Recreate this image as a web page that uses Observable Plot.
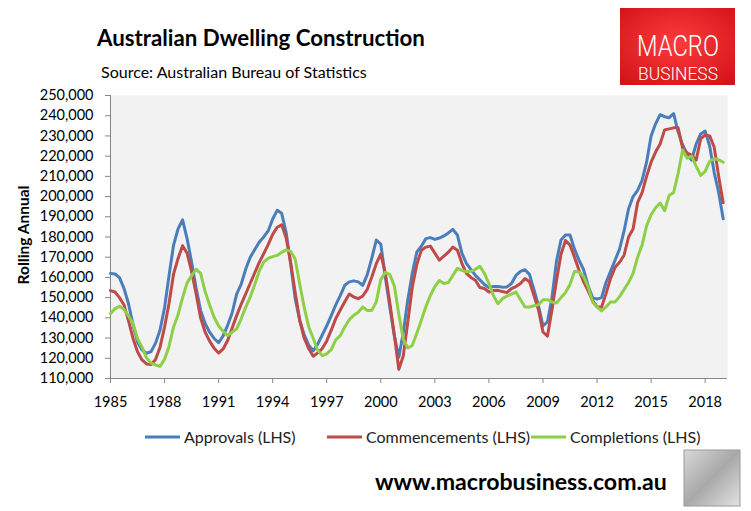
<!DOCTYPE html>
<html><head><meta charset="utf-8">
<script src="https://cdn.jsdelivr.net/npm/d3@7"></script>
<script src="https://cdn.jsdelivr.net/npm/@observablehq/plot@0.6"></script>
<style>
html,body{margin:0;padding:0;background:#fff;}
#wrap{position:relative;width:751px;height:511px;overflow:hidden;}
#chart,#overlay{position:absolute;left:0;top:0;}
#overlay{pointer-events:none;}
#chart g[aria-label="x-axis tick"], #chart g[aria-label="y-axis tick"]{stroke:#868686;}
</style>
</head><body>
<div id="wrap"><div id="chart"></div><svg id="overlay" width="751" height="511"></svg></div>
<script>
// ---- data (thousands of dwellings, rolling annual, quarterly from 1985 Q1 to 2019 Q1) ----
const startYear = 1985;
const seriesNames = ["Approvals (LHS)", "Commencements (LHS)", "Completions (LHS)"];
const approvals = [
  162, 161.7, 159.9, 154.5,  147, 136.5, 128.1, 124.1,  122.5, 123.3, 127.5, 134,
  145, 161, 176, 184,  188.5, 179.2, 167.6, 154.8,  143.7, 137.2, 132.9, 129.8,
  127.7, 131.1, 136.3, 142.4,  151.7, 156.6, 164, 169.9,  173.7, 177.4, 180, 183,
  188.9, 193.2, 191.7, 182.1,  166.5, 149.4, 138.8, 131.6,  126.5, 123.7, 127, 131.5,
  136, 141.1, 146.4, 151,  156.1, 157.8, 158.3, 157.8,  156.1, 161.4, 169.5, 178.5,
  176.5, 160.2, 145.4, 131.2,  120.5, 132.9, 149, 162.2,  172.6, 175.4, 179.2, 179.7,
  178.8, 179.5, 180.5, 182,  183.8, 181, 172, 167,  164, 161, 158.8, 156.5,
  155, 155.5, 155.5, 155.2,  155.3, 157, 161, 163,  163.8, 161.5, 154, 146,
  136, 138, 150, 168,  178.5, 181, 181, 174,  168.5, 164, 156, 150,
  149.3, 150, 157.5, 163,  168.5, 174, 183, 194,  200, 203, 208, 217,
  230, 236, 240.5, 239.5,  239, 241, 232, 225.5,  221, 218, 226, 231,
  232.4, 225, 212, 202,  189
];
const commencements = [
  153.5, 152.8, 150, 146.4,  138.5, 129.8, 123.2, 119.2,  117.2, 116.9, 119.4, 125.5,
  135.5, 147.2, 161.7, 169.4,  175.7, 172, 163, 152,  140, 133, 128.5, 125,
  122.6, 124.6, 128.8, 135,  141.1, 146.7, 151.8, 157,  162.2, 167.3, 171.7, 176.2,
  181.3, 184.8, 186, 179.5,  167.3, 152.5, 138.8, 129.9,  124.8, 121, 122.7, 124.8,
  128.6, 133.9, 139.6, 143.9,  148, 151.8, 150.3, 149.5,  150.8, 154.1, 160.2, 166.8,
  171.6, 162.2, 147.5, 131.6,  114.5, 121.3, 138.1, 155.3,  166.5, 173.4, 175, 175.5,
  172, 168.5, 170.5, 172.5,  175, 173.5, 167, 162,  160, 158.6, 155, 154.5,
  152.8, 153.5, 153.6, 153,  152.5, 154.5, 155.5, 157,  159.4, 158, 151, 144,
  133, 131, 144, 158.5,  171.5, 178.3, 176, 170,  163.5, 158, 153.5, 148.5,
  145.5, 145.3, 152, 159.5,  165, 167.5, 171, 180,  184, 197, 202, 210,
  217, 222, 226, 233,  233.5, 234, 234, 224,  221.5, 220.5, 218, 228.5,
  230.5, 230, 224.5, 210,  197
];
const completions = [
  142, 144.6, 145.7, 144.2,  140.9, 137.3, 129.7, 125.5,  120.2, 117.6, 116.7, 116,
  119.5, 126, 135.5, 141.5,  150, 157.3, 160.9, 164,  162, 153.1, 146.4, 140.3,
  136, 133.4, 131.2, 133,  134.5, 139.5, 145.2, 150.2,  156.4, 163, 167.6, 169.4,
  170.3, 170.9, 172.4, 173.6,  172.9, 169, 156.8, 145.2,  135.5, 129.9, 124, 121.3,
  122.2, 124.3, 129.1, 131.2,  135.5, 139.1, 141.3, 142.8,  145.4, 143.7, 143.7, 147.9,
  158.9, 162.5, 161.4, 155.9,  141.8, 129.3, 125.1, 126.4,  132.4, 138.8, 145.5, 151,
  155.5, 158.5, 157, 157.5,  161, 164.5, 163.5, 162.8,  163, 164, 165.5, 162,
  157, 151, 147, 149.5,  150.8, 151.7, 152.8, 149,  145.4, 145.4, 146, 146.5,
  149, 149, 147.8, 147.4,  150, 152.5, 156.5, 163,  162.7, 160.5, 155.5, 147.9,
  145.4, 143.4, 145.4, 147.9,  147.9, 150.5, 154, 157.5,  162, 170, 176, 185.5,
  191, 194.5, 196.8, 193,  200.5, 202, 211.5, 223,  219, 220, 215, 210.5,
  212.5, 217.5, 218.7, 218.2,  217
];
const xTicks = [1985, 1988, 1991, 1994, 1997, 2000, 2003, 2006, 2009, 2012, 2015, 2018];
const yTicks = [110, 120, 130, 140, 150, 160, 170, 180, 190, 200, 210, 220, 230, 240, 250];
const colors = ["#4a7ebb", "#be4b48", "#8dcf47"];

// ---- build rows ----
const toRows = (arr, name) => arr.map((v, i) => ({t: startYear + i / 4, v, series: name}));
const rowsA = toRows(approvals, seriesNames[0]);
const rowsC = toRows(commencements, seriesNames[1]);
const rowsK = toRows(completions, seriesNames[2]);
const fmt = d3.format(",");

const chart = Plot.plot({
  width: 751, height: 511,
  marginLeft: 110, marginRight: 24, marginTop: 95, marginBottom: 133,
  style: {fontFamily: "Lato, 'Open Sans', sans-serif", fontSize: "14.5px", background: "transparent", color: "#000", overflow: "visible"},
  x: {domain: [1985, 2019.24]},
  y: {domain: [110, 250]},
  marks: [
    Plot.frame({fill: "#f2f2f2", stroke: null}),
    Plot.axisY({ticks: yTicks, tickSize: 5, tickPadding: 12, tickFormat: d => fmt(d * 1000), label: null, color: "#000"}),
    Plot.axisX({ticks: xTicks, tickSize: 5, tickPadding: 13, tickFormat: d => String(d), label: null, color: "#000"}),
    Plot.ruleX([1985], {stroke: "#868686"}),
    Plot.ruleY([110], {stroke: "#868686"}),
    Plot.line(rowsA, {x: "t", y: "v", stroke: colors[0], strokeWidth: 3, strokeLinejoin: "round"}),
    Plot.line(rowsC, {x: "t", y: "v", stroke: colors[1], strokeWidth: 3, strokeLinejoin: "round"}),
    Plot.line(rowsK, {x: "t", y: "v", stroke: colors[2], strokeWidth: 3, strokeLinejoin: "round"})
  ]
});
document.getElementById("chart").appendChild(chart);

// ---- overlay: titles, legend, footer, logos ----
const ov = d3.select("#overlay");
const defs = ov.append("defs");
const rg = defs.append("radialGradient").attr("id", "logoGrad").attr("cx", "50%").attr("cy", "45%").attr("r", "70%");
rg.append("stop").attr("offset", "0%").attr("stop-color", "#ff3b3b");
rg.append("stop").attr("offset", "100%").attr("stop-color", "#d0141a");
const wg = defs.append("linearGradient").attr("id", "wolfGrad").attr("x1", "0").attr("y1", "0").attr("x2", "1").attr("y2", "1");
wg.append("stop").attr("offset", "0%").attr("stop-color", "#d8d8d8");
wg.append("stop").attr("offset", "50%").attr("stop-color", "#a8a8a8");
wg.append("stop").attr("offset", "100%").attr("stop-color", "#e2e2e2");

function fitText(sel, width) {
  const node = sel.node();
  const w = node.getComputedTextLength();
  const fs = parseFloat(sel.attr("font-size"));
  if (w > 0) sel.attr("font-size", (fs * width / w).toFixed(2));
}
const sans = "Lato, 'Open Sans', sans-serif";

const title = ov.append("text").attr("x", 97).attr("y", 46).attr("font-family", sans)
  .attr("font-weight", 700).attr("font-size", 20).attr("fill", "#000").text("Australian Dwelling Construction");
fitText(title, 328);
const sub = ov.append("text").attr("x", 101).attr("y", 78).attr("font-family", sans)
  .attr("font-size", 15).attr("fill", "#000").text("Source: Australian Bureau of Statistics");
fitText(sub, 266);

ov.append("text").attr("transform", "translate(29,235) rotate(-90)").attr("text-anchor", "middle")
  .attr("font-family", sans).attr("font-weight", 700).attr("font-size", 15.5).attr("fill", "#000")
  .text("Rolling Annual");

// legend
const legendX = [145, 327, 531];
seriesNames.forEach((name, i) => {
  ov.append("line").attr("x1", legendX[i]).attr("x2", legendX[i] + 35).attr("y1", 437).attr("y2", 437)
    .attr("stroke", colors[i]).attr("stroke-width", 3);
  ov.append("text").attr("x", legendX[i] + 39).attr("y", 442.5).attr("font-family", sans)
    .attr("font-size", 16).attr("fill", "#222").text(name);
});

// footer
const foot = ov.append("text").attr("x", 375).attr("y", 490).attr("font-family", sans)
  .attr("font-weight", 700).attr("font-size", 21).attr("fill", "#000").text("www.macrobusiness.com.au");
fitText(foot, 292);

// MacroBusiness logo
ov.append("rect").attr("x", 620).attr("y", 8).attr("width", 115).attr("height", 77).attr("fill", "url(#logoGrad)");
ov.append("text").attr("x", 678).attr("y", 56).attr("text-anchor", "middle")
  .attr("font-family", "Roboto, 'Open Sans', sans-serif").attr("font-weight", 300).attr("font-size", 30)
  .attr("fill", "#fff").attr("textLength", 82).attr("lengthAdjust", "spacingAndGlyphs").text("MACRO");
ov.append("text").attr("x", 678).attr("y", 80).attr("text-anchor", "middle")
  .attr("font-family", "Roboto, 'Open Sans', sans-serif").attr("font-weight", 300).attr("font-size", 18)
  .attr("fill", "#fff").attr("textLength", 80).attr("lengthAdjust", "spacingAndGlyphs").text("BUSINESS");

// wolf emblem placeholder
ov.append("rect").attr("x", 684).attr("y", 450).attr("width", 56).attr("height", 56)
  .attr("fill", "url(#wolfGrad)").attr("stroke", "#999").attr("stroke-width", 1);
</script>
</body></html>
